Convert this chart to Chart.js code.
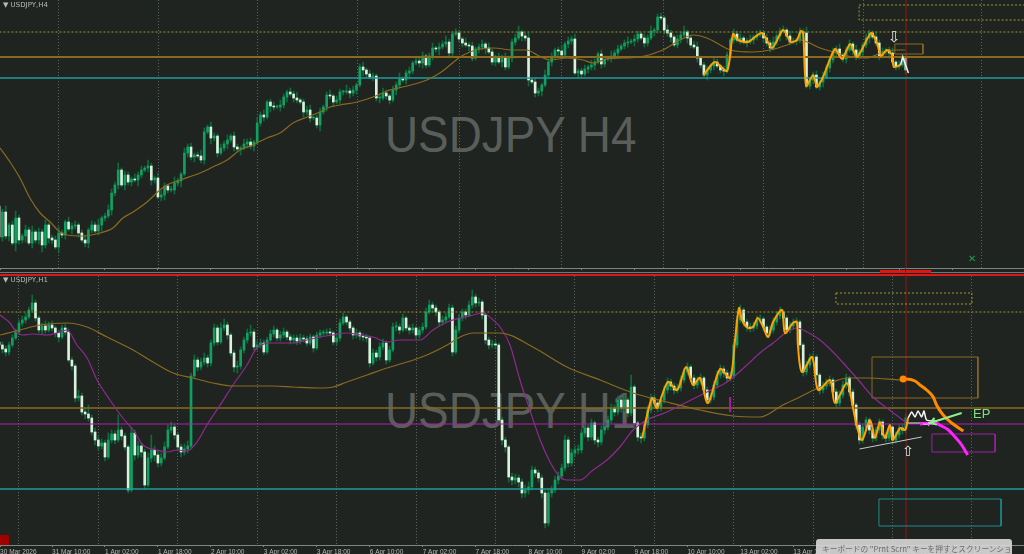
<!DOCTYPE html>
<html><head><meta charset="utf-8"><title>USDJPY H4 / H1</title>
<script src="https://cdn.jsdelivr.net/npm/chart.js@4.4.1/dist/chart.umd.min.js"></script>
<style>
html,body{margin:0;padding:0;background:#1f2421;}
#wrap{position:relative;width:1024px;height:554px;overflow:hidden;background:#1f2421;}
canvas{position:absolute;left:0;}
.wm{position:absolute;font-family:"Liberation Sans",Arial,sans-serif;font-size:50px;line-height:50px;color:#595e5b;white-space:nowrap;transform:scaleX(0.917);transform-origin:0 0;}
.ttl{position:absolute;left:3px;font-family:"DejaVu Sans",sans-serif;font-size:7px;line-height:8px;color:#b8bcb8;white-space:nowrap;}
.abs{position:absolute;white-space:nowrap;}
</style></head><body>
<div id="wrap">
 <div class="wm" style="left:385px;top:110px;">USDJPY H4</div>
 <div class="wm" style="left:385px;top:386px;">USDJPY H1</div>
 <canvas id="cTop" width="1024" height="273" style="top:0"></canvas>
 <canvas id="cBot" width="1024" height="278" style="top:276px"></canvas>
 <div class="ttl" style="top:1px;">▼ USDJPY,H4</div>
 <div class="ttl" style="top:276px;">▼ USDJPY,H1</div>
 <div class="abs" style="left:0;top:272px;width:1024px;height:1px;background:#6f7873;"></div>
 <div class="abs" style="left:0;top:274px;width:1024px;height:2px;background:#d41c1c;"></div>
 <div class="abs" style="left:880px;top:270px;width:51px;height:3px;background:#e01515;"></div>
 <div class="abs" style="left:905px;top:268px;width:1px;height:8px;background:#8b1a1a;"></div>
 <div class="abs" style="left:968px;top:253px;font-family:'DejaVu Sans';font-size:10px;color:#18a050;">✕</div>
 <div class="abs" style="left:0;top:535px;width:9px;height:10px;background:#a00000;"></div>
 <div class="abs" style="left:973px;top:407px;font-family:'Liberation Sans';font-size:13px;line-height:14px;color:#7fe07f;">EP</div>
 <div class="abs" style="left:888px;top:29px;font-family:'DejaVu Sans';font-size:15px;line-height:16px;color:#e6e6e6;">⇩</div>
 <div class="abs" style="left:902px;top:444px;font-family:'DejaVu Sans';font-size:14px;line-height:15px;color:#e6e6e6;">⇧</div>
 <div class="abs" style="left:923px;top:419px;font-family:'DejaVu Sans';font-size:9px;line-height:10px;color:#e6e6e6;">⇨</div>
 <div class="abs" style="left:816px;top:539px;width:196px;height:20px;overflow:hidden;background:rgba(212,212,212,0.93);border-radius:3px;font-family:'Noto Sans CJK JP',sans-serif;font-size:7.7px;line-height:9px;color:#6b6b6b;padding:5px 0 0 6px;box-sizing:border-box;">キーボードの "Prnt Scrn" キーを押すとスクリーンショット</div>
</div>
<script>
// ---------- common x range (bar index units) ----------
const X_MIN = 0.27, X_MAX = 309.73;
const NOW_INDEX = 274.1;

// ---------- H4 panel (top) ----------
const h4TimeLabels = ["10 Feb 2026","13 Feb 00:00","17 Feb 16:00","20 Feb 08:00","25 Feb 00:00","27 Feb 16:00","4 Mar 08:00","9 Mar 00:00","11 Mar 16:00","16 Mar 08:00","19 Mar 00:00","23 Mar 16:00","26 Mar 08:00","31 Mar 00:00","2 Apr 16:00","7 Apr 08:00","10 Apr 00:00","14 Apr 16:00","17 Apr 08:00"];
const h4LabelIdx = [0.3,16,32,48,64,80,96,112,128,144,160,176,192,208,224,240,256,272,288];
const h4GridIdx = [18.1,48.3,78.2,108.2,139,170.1,200.9,231.1,261.1,297];
const h4Open0 = 62;
const h4Close = [31,56,32,43,25,50,28,32,38,25, 36,28,36,23,43,30,28,21,35,33,
 46,39,42,43,35,28,25,38,43,37, 43,50,52,58,75,83,98,83,93,86,
 89,88,93,98,100,102,88,90,71,73, 82,78,78,85,87,94,115,121,111,113,
 112,108,136,141,130,132,115,120,124,128, 132,121,119,120,124,126,122,126,145,153,
 151,166,162,161,161,163,171,176,174,170, 168,166,156,158,150,150,143,156,161,173,
 172,166,168,176,176,177,175,178,183,201, 198,194,191,192,170,170,175,172,168,178,
 183,189,188,195,197,205,207,205,212,203, 212,220,219,221,224,226,215,234,235,229,
 225,223,222,210,219,221,224,220,216,206, 211,206,210,201,210,226,230,236,232,230,
 188,186,175,177,183,193,206,211,218,217, 213,224,227,229,195,197,194,199,201,203,
 206,214,204,209,210,212,215,219,222,225, 226,227,229,234,230,225,230,237,238,251,
 250,238,235,231,223,229,233,236,230,223, 221,210,203,193,198,202,206,202,198,197,
 213,228,234,228,230,227,226,228,231,233, 235,230,225,220,226,232,237,238,232,226,
 227,228,236,235,182,188,193,181,186,191, 200,208,216,219,213,209,218,224,218,211,
 216,223,230,235,231,225,212,216,218,215, 206,202,203,210,198];
const h4WickUp = [5,3,6,2,4,7,3,2,5,3,6,2,4,3,5,2,3,4,6,3,2,5,3,4,2,
 3,5,2,4,3,6,2,3,5,4,3,7,2,4,3,2,5,3,4,2,6,3,2,5,4,
 3,2,4,6,3,2,5,3,4,2,3,6,4,2,5,3,2,4,3,5,2,4,3,2,5,
 3,4,2,6,3,5,2,3,4,2,5,3,2,4,3,6,2,3,4,5,2,3,4,2,3,
 5,2,4,3,2,6,3,4,2,3,5,2,4,3,2,4,5,3,2,4,3,6,2,3,4,
 2,5,3,4,2,3,5,2,4,3,6,3,2,4,3,2,5,3,4,2,3,4,2,5,3,
 2,4,3,5,2,3,4,6,2,3,5,2,4,3,2,5,3,4,2,3,6,2,4,3,5,
 2,3,4,2,5,3,2,4,3,2,5,3,4,2,3,5,2,4,3,2,4,3,5,2,3,
 4,2,5,3,2,4,3,6,2,3,4,5,2,3,4,2,5,3,2,4,3,2,5,3,4,
 2,3,5,2,4,3,2,4,3,5,2,3,4,2,5,3,2,4,3,6,2,3,4,2,5,
 3,2,4,3,5,2,3,4,2,5,3,2,4,3,2,5,3,4,2,3,5,2,4,3,3];
const h4WickDown = [6,4,3,5,2,8,4,3,6,2,5,3,4,7,3,5,4,2,6,3,4,2,5,3,4,
 2,4,5,3,2,4,6,3,2,5,3,4,2,5,3,4,2,6,3,2,4,5,3,2,4,
 5,3,2,4,3,6,2,4,3,5,2,3,4,2,6,3,4,2,3,5,2,4,3,6,2,
 4,3,5,2,3,4,2,6,3,2,4,3,5,2,4,3,2,5,3,4,2,3,6,2,4,
 3,5,2,4,3,2,5,3,4,2,6,3,2,4,3,5,2,3,4,2,5,3,2,4,6,
 3,2,4,5,3,2,4,3,6,2,3,5,4,2,3,4,2,5,3,2,4,3,6,2,3,
 4,2,5,3,2,4,3,2,5,3,6,2,4,3,5,2,3,4,2,5,3,2,4,3,2,
 5,3,2,4,3,5,2,4,3,2,4,3,5,2,3,4,2,5,3,2,4,3,2,5,3,
 2,4,3,5,2,3,4,2,5,3,2,4,3,2,5,3,4,2,3,5,2,4,3,2,4,
 3,5,2,4,3,2,5,3,4,2,3,5,2,4,3,2,4,3,5,2,3,4,2,3,5,
 2,4,3,5,2,3,4,2,5,3,2,4,3,5,2,3,4,2,3,5,2,4,3,2,4];
const h4MA = [[0.3,120],[3.3,106],[6.3,90],[9.3,70],[12.4,55],[15.4,46],[18.4,36],[20.5,33],[25.4,32],[30.5,35],[34.4,40],[37.4,50],[40.5,56],[44.7,66],[48.6,78],[50.7,83],[54.7,88],[60.7,95],[64.6,101],[68.9,108],[72.8,118],[76.7,123],[80.9,130],[84.9,135],[88.8,145],[93.1,151],[97,156],[100,161],[103,163],[108.2,166],[113,171],[117.2,177],[123.3,182],[129.3,188],[133.2,195],[136.3,203],[139.3,211],[142.3,216],[145.3,219],[149.3,220],[155.3,218],[159.5,218],[162.6,213],[166.5,208],[171.6,210],[176.5,208],[179.5,205],[183.7,209],[188.5,210],[193.7,211],[200.6,218],[205.8,228],[209.7,233],[213.9,230],[217.9,223],[220.9,218],[227.8,216],[233,218],[238.1,223],[242,228],[248.1,220],[253.2,215],[258,211],[262.3,210],[267.1,216],[271.3,218],[273.8,218]];
const h4Zigzag = [[212.9,193],[216.3,206],[220,197],[221.8,234],[223.3,228],[226.3,226],[230.5,235],[233.6,220],[236.9,238],[239.3,226],[241.1,228],[242.3,237],[243,235],[243.9,182],[246,193],[247.2,181],[249,191],[252.6,219],[254.7,209],[257.2,224],[259.3,211],[263.5,235],[265.3,225],[266.5,212],[268.3,218],[269.8,213],[270.4,201],[272.4,203]];
const h4WhitePath = [[272.4,203],[273.1,211],[274.8,195]];
const h4Levels = {dotted:236, brown:211, teal:190};
const h4BoxDotted = [259.9,311.5,263,248];
const h4BoxBrown = [270.7,279.2,224,214];

// ---------- H1 panel (bottom) ----------
const h1TimeLabels = ["30 Mar 2026","31 Mar 10:00","1 Apr 02:00","1 Apr 18:00","2 Apr 10:00","3 Apr 02:00","3 Apr 18:00","6 Apr 10:00","7 Apr 02:00","7 Apr 18:00","8 Apr 10:00","9 Apr 02:00","9 Apr 18:00","10 Apr 10:00","13 Apr 02:00","13 Apr 18:00","14 Apr 10:00","15 Apr 02:00","15 Apr 18:00"];
const h1LabelIdx = [0.3,16,32,48,64,80,96,112,128,144,160,176,192,208,224,240,256,272,288];
const h1GridIdx = [6,30,54,78,102,126,150,174,198,222,246,270,294];
const h1Open0 = 203;
const h1Close = [200,196,193,200,207,213,222,225,228,235, 242,227,215,219,215,220,217,212,208,217,
 213,185,179,147,149,133,131,127,113,105, 99,102,88,105,111,105,115,109,98,55,
 112,90,99,93,60,87,95,90,82,87, 98,115,118,110,98,93,96,99,169,185,
 178,183,187,182,202,217,203,217,220,210, 192,178,179,195,205,212,213,198,200,202,
 193,205,211,215,207,210,213,208,205,207, 204,207,206,202,208,197,210,212,212,213,
 212,203,207,222,228,223,217,210,212,209, 208,207,182,192,188,198,202,185,195,218,
 218,215,227,217,215,217,210,215,218,233, 240,237,233,223,225,228,237,193,215,227,
 233,230,240,248,242,243,230,205,200,201, 200,125,105,98,68,65,67,63,52,55,
 58,75,72,67,52,22,52,55,65,69, 77,105,82,92,95,95,112,117,108,122,
 105,103,115,118,125,137,133,145,137,145, 132,158,122,108,107,120,135,147,142,137,
 145,155,163,159,155,157,165,173,178,167, 160,164,167,155,145,148,160,170,176,172,
 167,169,200,225,235,223,218,217,219,225, 226,218,212,215,223,229,233,227,215,219,
 222,223,200,173,180,187,188,170,155,159, 162,165,153,142,150,160,167,153,140,120,
 105,118,125,115,107,115,123,110,107,118, 105,110,117,115,127];
const h1High = [206,203,199,203,210,216,225,229,232,238, 250,245,229,222,224,223,224,219,215,220,
 221,216,188,181,155,152,137,140,130,117, 108,106,105,112,115,114,130,118,112,100,
 118,115,104,102,96,92,110,99,94,92, 103,120,123,121,113,101,101,104,172,190,
 188,187,192,190,205,221,220,222,226,223, 212,195,184,198,208,216,220,216,204,206,
 205,208,215,219,217,214,217,215,211,210, 210,211,210,209,211,210,213,215,215,216,
 217,214,210,226,232,230,225,219,216,214, 212,211,209,196,195,202,206,204,199,222,
 223,221,231,229,220,221,219,218,222,237, 245,243,240,235,229,232,241,240,219,231,
 236,236,244,255,251,247,245,232,208,205, 204,202,128,108,100,72,71,70,66,60,
 63,79,78,75,70,55,56,59,69,73, 81,110,108,96,99,100,116,121,120,126,
 124,108,119,122,129,141,140,149,147,150, 147,170,160,124,112,124,139,151,150,145,
 149,159,167,166,162,161,169,177,182,180, 170,168,171,169,158,152,164,174,180,179,
 175,173,204,229,240,237,226,222,223,229, 230,228,220,219,227,233,238,235,229,223,
 226,227,225,202,184,191,192,190,172,163, 166,169,167,156,154,164,171,169,156,142,
 123,121,128,127,117,118,126,125,113,121, 120,113,120,121,131];
const h1Low = [196,192,189,190,198,205,211,219,222,226, 233,224,212,211,212,213,214,208,203,206,
 210,183,175,143,144,130,126,124,110,100, 95,96,84,86,102,101,103,105,95,52,
 53,85,87,88,56,58,83,84,78,79, 85,96,112,106,94,88,90,92,97,166,
 174,175,180,178,179,199,200,201,214,206, 189,173,172,176,192,202,209,195,195,197,
 190,191,203,208,204,204,207,205,201,202, 200,201,203,199,200,193,195,207,209,210,
 209,200,200,204,220,220,214,206,207,205, 204,203,178,180,184,185,195,181,183,193,
 214,211,213,214,211,212,206,207,212,216, 231,233,229,219,220,222,226,189,191,212,
 224,226,228,237,238,239,226,201,196,197, 196,121,100,93,63,60,61,58,47,48,
 51,55,68,63,47,17,19,48,52,61, 66,74,78,79,88,91,92,108,104,105,
 101,98,100,111,115,122,129,130,133,134, 128,129,118,104,102,104,117,132,138,133,
 134,142,152,155,151,152,154,162,170,163, 156,157,161,151,141,142,145,157,167,168,
 163,164,166,197,222,219,214,213,214,216, 222,214,208,209,212,220,226,223,211,212,
 216,219,196,169,170,177,184,166,151,152, 156,159,149,138,139,147,157,149,136,116,
 101,102,115,111,103,104,112,106,103,104, 101,102,107,111,112];
const h1MASlow = [[0.3,210],[6.3,215],[12.4,220],[20.5,222],[26.6,218],[32.6,208],[40.5,195],[46.5,183],[52.6,172],[58.6,167],[64.6,162],[70.7,159],[76.7,159],[82.8,159],[88.8,158],[97,157],[100.9,158],[105.1,163],[111.2,170],[117.2,177],[123.3,183],[129.3,190],[135.4,200],[139.3,208],[143.2,212],[147.4,212],[151.4,212],[161.3,198],[171.6,178],[181.6,165],[191.6,152],[201.8,143],[211.8,135],[221.8,129],[229.9,128],[236.9,140],[242,148],[248.1,158],[252,163],[256.2,167],[262.3,167],[272.3,165]];
const h1MAFast = [[0.3,230],[3.3,222],[5.4,212],[7.2,210],[10.2,211],[14.5,210],[18.4,213],[20.5,215],[23.5,200],[26.6,187],[29.6,165],[33.5,145],[37.4,127],[40.5,115],[43.5,100],[47.7,95],[50.7,93],[53.8,95],[56.8,94],[59.8,103],[62.8,120],[66.8,140],[70.7,160],[74.9,180],[77.9,197],[82.8,202],[88.8,202],[93.1,205],[97,208],[100.9,210],[105.1,212],[109.1,210],[113,208],[117.2,203],[121.1,205],[127.2,205],[131.1,215],[135.4,223],[139.3,227],[143.2,230],[146.2,232],[149.3,225],[151.4,218],[154.4,200],[157.4,165],[160.4,135],[163.5,105],[166.5,83],[169.5,68],[171.6,65],[175.6,65],[179.5,75],[183.7,85],[187.6,98],[191.6,115],[195.8,125],[201.8,133],[207.9,143],[213.9,153],[220,163],[226,180],[229.9,192],[233.9,202],[238.1,213],[241.1,217],[244.2,213],[248.1,205],[252,193],[256.2,178],[260.2,163],[264.1,148],[268.3,137],[272.3,127],[274.4,122]];
const h1Zigzag = [[194.3,107],[197.3,147],[198.8,137],[202.1,163],[204.9,155],[207.6,178],[209.7,160],[211.8,167],[214.2,142],[217.9,176],[220.9,167],[222.4,205],[223.6,237],[224.5,225],[226.3,217],[227.8,218],[229.3,227],[230.9,218],[232.4,208],[233.9,223],[236.6,235],[237.5,212],[239.9,222],[241.1,223],[241.4,200],[242.6,173],[245.7,188],[247.5,155],[251.1,165],[252.6,142],[256.2,162],[258,138],[259.3,118],[260.8,105],[263.2,125],[264.7,107],[266.2,123],[267.7,107],[269.2,120],[270.1,105],[272.3,117],[273.8,115],[274.7,127]];
const h1WhiteZigzag = [[274.7,127],[275.8,133],[276.8,128],[277.7,134],[278.8,128],[279.5,134],[280.3,125],[283.3,124]];
const h1WhiteBase = [[274.1,122],[280.7,122]];
const h1OrangeProjection = [[272.8,166],[274.1,166],[276.8,164],[278.3,160],[280.3,155],[282.3,148],[283.3,140],[285.3,130],[287.9,122],[291.4,114]];
const h1OrangeDot = [[273.2,166]];
const h1MagentaProjection = [[278.3,121],[282.8,122],[284.8,119],[286.9,115],[288.9,108],[290.9,100],[292.7,90]];
const h1EntryArrow = [[290.9,132],[281.3,122]];
const h1EntryArrowHead = [[283.4,120.4],[281.3,122],[282.7,127]];
const h1SupportLine = [[260,96],[278.8,108]];
const h1MagentaTick = [[220.9,148],[220.9,133]];
const h1Levels = {dotted:233, brown:137, magenta:121, teal:56};
const h1BoxDotted = [252.9,294,252,241];
const h1BoxBrown = [263.8,295.8,188,147];
const h1BoxMagenta = [281.9,301,111,93];
const h1BoxTeal = [265.9,302.8,46,19];

// ---------- colours ----------
const BULL = '#10a062', BEAR = '#d9f2dc', WICK = '#0e6a3c';
const C_BROWN = '#8a6a1f', C_DOT = '#a39b22', C_TEAL = '#1f9c9c', C_MAG = '#b21db2', C_PURPLE = '#8e2a8e', C_ORANGE = '#ffa200', C_RED = '#8b1a1a';

Chart.defaults.font.family = 'Liberation Sans';

function line(pairs, color, width, extra) {
  return Object.assign({type:'line', xAxisID:'x', yAxisID:'y',
    data: pairs.map(p => ({x:p[0], y:p[1]})),
    borderColor:color, borderWidth:width, pointRadius:0, pointHitRadius:0,
    fill:false, tension:0, order:5}, extra || {});
}
function level(v, color, width, dash) {
  return line([[X_MIN-5, v],[X_MAX+5, v]], color, width, {borderDash: dash || [], order:8});
}
function box(b, color, dash) {
  return line([[b[0],b[2]],[b[1],b[2]],[b[1],b[3]],[b[0],b[3]],[b[0],b[2]]], color, 1, {borderDash: dash || [], order:8});
}

function buildChart(id, p) {
  const open = [p.open0].concat(p.close.slice(0, -1));
  const wick = p.close.map((c,i) => ({x:i, y:[p.low[i], p.high[i]]}));
  const body = p.close.map((c,i) => ({x:i, y:[open[i], c]}));
  const datasets = [
    {type:'bar', xAxisID:'x', yAxisID:'y', data:wick, backgroundColor:WICK, barThickness:1, grouped:false, borderWidth:0, order:11},
    {type:'bar', xAxisID:'x', yAxisID:'y', data:body, backgroundColor:(ctx) => { const r = ctx.raw; return (r && r.y[1] >= r.y[0]) ? BULL : BEAR; },
      barThickness:2, grouped:false, borderWidth:0, minBarLength:1, order:10}
  ].concat(p.extra);
  return new Chart(document.getElementById(id), {
    type:'bar',
    data:{datasets},
    options:{
      responsive:false, animation:false, events:[], devicePixelRatio:1,
      layout:{padding:0, autoPadding:false},
      plugins:{legend:{display:false}, tooltip:{enabled:false}},
      scales:{
        x:{type:'linear', position:'bottom', min:X_MIN, max:X_MAX, offset:false, weight:1,
          afterBuildTicks:(s) => { s.ticks = p.labelIdx.map(v => ({value:v})); },
          afterFit:(s) => { s.height = p.axisH; s.paddingLeft = 0; s.paddingRight = 0; },
          ticks:{autoSkip:false, maxRotation:0, minRotation:0, align:'start', padding:1, color:'#b5bab6',
            font:{family:'Liberation Sans', size:6.5}, callback:(v,i) => p.labels[i]},
          grid:{drawOnChartArea:false, drawTicks:true, tickLength:2, color:'#7d8782', offset:false},
          border:{display:true, color:'#7d8782', width:1}},
        g:{type:'linear', axis:'x', position:'bottom', min:X_MIN, max:X_MAX, offset:false, weight:2,
          afterBuildTicks:(s) => { s.ticks = p.gridIdx.map(v => ({value:v})); },
          afterFit:(s) => { s.height = 0; s.paddingLeft = 0; s.paddingRight = 0; },
          ticks:{display:false},
          grid:{drawOnChartArea:true, drawTicks:false, color:'#5b645f', lineWidth:1, offset:false},
          border:{display:false, dash:[1,2]}},
        y:{type:'linear', min:0, max:p.yMax, display:false}
      }
    }
  });
}

// top H4 wicks from typed wick lengths
const h4Opens = [h4Open0].concat(h4Close.slice(0, -1));
const h4High = h4Close.map((c,i) => Math.max(c, h4Opens[i]) + h4WickUp[i]);
const h4Low = h4Close.map((c,i) => Math.min(c, h4Opens[i]) - h4WickDown[i]);

buildChart('cTop', {
  open0:h4Open0, close:h4Close, high:h4High, low:h4Low, yMax:268, axisH:5,
  labels:h4TimeLabels, labelIdx:h4LabelIdx, gridIdx:h4GridIdx,
  extra:[
    level(h4Levels.dotted, C_DOT, 1, [2,2]),
    level(h4Levels.brown, C_BROWN, 2),
    level(h4Levels.teal, C_TEAL, 1.5),
    box(h4BoxDotted, C_DOT, [2,2]),
    box(h4BoxBrown, C_BROWN),
    line(h4MA, C_BROWN, 1.2, {cubicInterpolationMode:'monotone', order:6}),
    line(h4Zigzag, C_ORANGE, 2, {tension:0.25, order:3}),
    line(h4WhitePath, '#f0f0f0', 1.5, {order:3}),
    line([[NOW_INDEX,-10],[NOW_INDEX,300]], C_RED, 1, {order:9})
  ]
});

buildChart('cBot', {
  open0:h1Open0, close:h1Close, high:h1High, low:h1Low, yMax:269, axisH:9,
  labels:h1TimeLabels, labelIdx:h1LabelIdx, gridIdx:h1GridIdx,
  extra:[
    level(h1Levels.dotted, C_DOT, 1, [2,2]),
    level(h1Levels.brown, C_BROWN, 1.5),
    level(h1Levels.magenta, C_MAG, 1.2),
    level(h1Levels.teal, C_TEAL, 1.5),
    box(h1BoxDotted, C_DOT, [2,2]),
    box(h1BoxBrown, C_BROWN),
    box(h1BoxMagenta, '#a01ea0'),
    box(h1BoxTeal, '#1c8c8c'),
    line(h1MASlow, C_BROWN, 1.2, {cubicInterpolationMode:'monotone', order:6}),
    line(h1MAFast, C_PURPLE, 1.2, {cubicInterpolationMode:'monotone', order:6}),
    line(h1MagentaTick, C_MAG, 1, {order:6}),
    line(h1Zigzag, C_ORANGE, 2, {tension:0.3, order:3}),
    line(h1WhiteBase, '#e8e8e8', 1, {order:3}),
    line(h1WhiteZigzag, '#f4f4f4', 1.5, {tension:0.2, order:3}),
    line(h1SupportLine, '#c9c9c9', 1, {order:4}),
    line(h1OrangeProjection, '#ff8a00', 3, {cubicInterpolationMode:'monotone', order:2}),
    line(h1OrangeDot, '#ff8a00', 0, {showLine:false, pointRadius:3.5, pointBackgroundColor:'#ff8a00', pointBorderWidth:0, order:2}),
    line(h1MagentaProjection, '#ff24ff', 3, {cubicInterpolationMode:'monotone', order:2}),
    line(h1EntryArrow, '#8ef08e', 2, {order:1}),
    line(h1EntryArrowHead, '#8ef08e', 2, {order:1}),
    line([[NOW_INDEX,-10],[NOW_INDEX,300]], C_RED, 1, {order:9})
  ]
});
</script>
</body></html>
